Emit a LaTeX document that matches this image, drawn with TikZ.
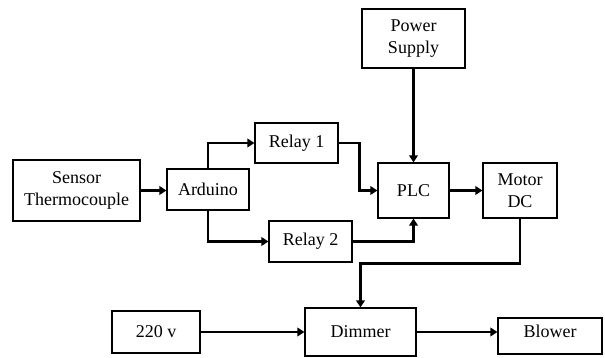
\documentclass[tikz,border=0pt]{standalone}
\usepackage{fontspec}
\setmainfont{Liberation Serif}
\usepackage{tikz}
\usetikzlibrary{arrows.meta}

\begin{document}
\begin{tikzpicture}[x=1pt, y=-1pt, every node/.style={font=\fontsize{18}{22}\selectfont},
	blk/.style={draw, line width=1.1pt, align=center, inner sep=0pt},
	link/.style={line width=2.6pt, -{Triangle[length=7pt, width=8.5pt]}}]
	\useasboundingbox (0,0) rectangle (605,358);
	% blocks
	\node[blk, minimum width=127, minimum height=61] (sensor) at (76.5,190.5) {Sensor\\Thermocouple};
	\node[blk, minimum width=82, minimum height=41] (arduino) at (208,189.5) {Arduino};
	\node[blk, minimum width=83, minimum height=40] (relay1) at (296.5,143) {Relay 1};
	\node[blk, minimum width=83, minimum height=41] (relay2) at (310.5,241.5) {Relay 2};
	\node[blk, minimum width=71, minimum height=55] (plc) at (413.5,190.5) {PLC};
	\node[blk, minimum width=103, minimum height=59] (power) at (413.5,38.5) {Power\\Supply};
	\node[blk, minimum width=74, minimum height=55] (motor) at (520,190.5) {Motor\\DC};
	\node[blk, minimum width=88, minimum height=42] (volt) at (156,332) {220 v};
	\node[blk, minimum width=111, minimum height=48] (dimmer) at (360.5,332) {Dimmer};
	\node[blk, minimum width=104, minimum height=36, text depth=9pt] (blower) at (550,336) {Blower};
	% connectors
	\draw[link] (sensor.east) -- (sensor.east -| arduino.west);
	\draw[link] (arduino.north) |- (relay1.west);
	\draw[link] (arduino.south) |- (relay2.west);
	\draw[link] (relay1.east) -- ++(21,0) |- (plc.west);
	\draw[link] (relay2.east) -| (plc.south);
	\draw[link] (power.south) -- (plc.north);
	\draw[link] (plc.east) -- (motor.west);
	\draw[link] (motor.south) -- ++(0,45) -| (dimmer.north);
	\draw[link] (volt.east) -- (volt.east -| dimmer.west);
	\draw[link] (dimmer.east) -- (dimmer.east -| blower.west);
\end{tikzpicture}
\end{document}
